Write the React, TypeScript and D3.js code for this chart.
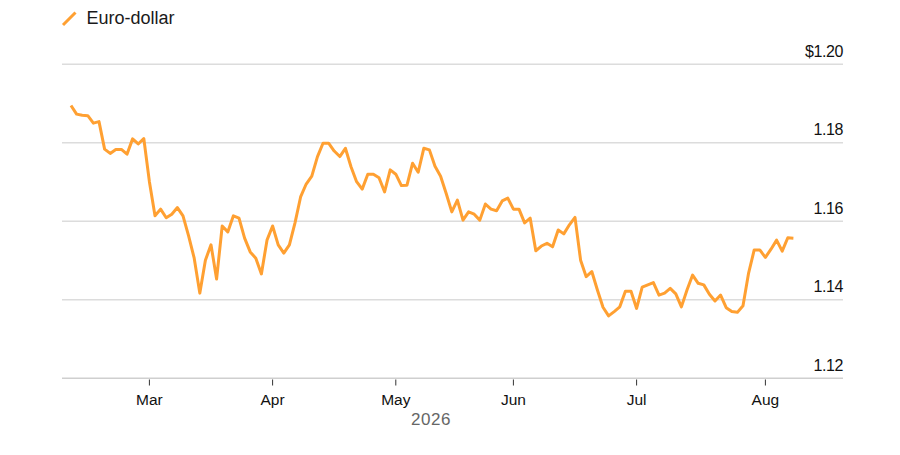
import {useEffect, useRef} from 'react';
import * as d3 from 'd3';

// Euro-dollar daily closes, trading days 10 Feb – 10 Aug 2026
const seriesName = 'Euro-dollar';
const eurUsd = [
  1.1895, 1.1873, 1.187, 1.1869, 1.185, 1.1854, 1.1784, 1.1773, 1.1783, 1.1783,
  1.1771, 1.181, 1.1797, 1.1811, 1.1701, 1.1614, 1.1631, 1.1609, 1.1618, 1.1635,
  1.1614, 1.1563, 1.1506, 1.1417, 1.1501, 1.154, 1.1453, 1.1588, 1.1573, 1.1614,
  1.1608, 1.1557, 1.1522, 1.1506, 1.1466, 1.1552, 1.1588, 1.154, 1.1519, 1.154,
  1.1596, 1.1662, 1.1695, 1.1715, 1.1764, 1.1799, 1.1799, 1.1779, 1.1765, 1.1786,
  1.1739, 1.1701, 1.1682, 1.172, 1.172, 1.1711, 1.1675, 1.1731, 1.172, 1.1691,
  1.1692, 1.1748, 1.1725, 1.1786, 1.1782, 1.174, 1.1715, 1.1671, 1.1624, 1.1654,
  1.1603, 1.1624, 1.1618, 1.1603, 1.1644, 1.1631, 1.1627, 1.1652, 1.1659, 1.1631,
  1.1631, 1.1596, 1.1608, 1.1525, 1.1537, 1.1544, 1.1535, 1.1578, 1.1568, 1.1591,
  1.161, 1.1501, 1.1459, 1.1472, 1.1425, 1.1381, 1.1359, 1.137, 1.1382, 1.1422,
  1.1422, 1.1378, 1.1432, 1.1438, 1.1444, 1.1412, 1.1417, 1.1429, 1.1415, 1.1382,
  1.1425, 1.1463, 1.1442, 1.1438, 1.1414, 1.1397, 1.1412, 1.138, 1.137, 1.1368,
  1.1385, 1.1468, 1.1527, 1.1527, 1.1508, 1.1529, 1.1552, 1.1524, 1.1558, 1.1557,
];

// first trading day of each month (index into eurUsd)
const monthLabels = ['Mar', 'Apr', 'May', 'Jun', 'Jul', 'Aug'];
const monthIndex = [14, 36, 58, 79, 101, 124];
const yearLabel = '2026';

const yTicks = [1.12, 1.14, 1.16, 1.18, 1.2];
const yTickLabels = ['1.12', '1.14', '1.16', '1.18', '$1.20'];

const WIDTH = 900;
const HEIGHT = 455;
const LINE_COLOR = '#ffa032';
const FONT = '"Liberation Sans", Arial, Helvetica, sans-serif';

const App = () => {
  const svgRef = useRef<SVGSVGElement>(null);

  useEffect(() => {
    const svg = d3.select(svgRef.current);
    svg.selectAll('*').remove();

    const plotLeft = 62;
    const plotRight = 843;

    const xScale = d3
      .scaleLinear()
      .domain([0, eurUsd.length - 1])
      .range([71, 793.4]);
    const yScale = d3.scaleLinear().domain([1.12, 1.2]).range([378.3, 64.3]);

    // legend
    const legend = svg.append('g');
    legend
      .append('line')
      .attr('x1', 63)
      .attr('y1', 25)
      .attr('x2', 75.5)
      .attr('y2', 12.5)
      .attr('stroke', LINE_COLOR)
      .attr('stroke-width', 3);
    legend
      .append('text')
      .attr('x', 86.5)
      .attr('y', 24)
      .attr('font-family', FONT)
      .attr('font-size', 18)
      .attr('fill', '#1a1a1a')
      .text(seriesName);

    // horizontal grid + y labels
    const grid = svg.append('g');
    grid
      .selectAll('line')
      .data(yTicks)
      .enter()
      .append('line')
      .attr('x1', plotLeft)
      .attr('x2', plotRight)
      .attr('y1', (d) => yScale(d))
      .attr('y2', (d) => yScale(d))
      .attr('stroke', (d, i) => (i === 0 ? '#cfcfcf' : '#dcdcdc'))
      .attr('stroke-width', 1.5);
    grid
      .selectAll('text')
      .data(yTicks)
      .enter()
      .append('text')
      .attr('x', plotRight)
      .attr('y', (d) => yScale(d) - 7.5)
      .attr('text-anchor', 'end')
      .attr('font-family', FONT)
      .attr('font-size', 16)
      .attr('letter-spacing', -0.4)
      .attr('fill', '#111')
      .text((d, i) => yTickLabels[i]);

    // x ticks
    const xAxis = svg.append('g');
    xAxis
      .selectAll('line')
      .data(monthIndex)
      .enter()
      .append('line')
      .attr('x1', (d) => xScale(d))
      .attr('x2', (d) => xScale(d))
      .attr('y1', 379.5)
      .attr('y2', 385.5)
      .attr('stroke', '#333')
      .attr('stroke-width', 1);
    xAxis
      .selectAll('text')
      .data(monthIndex)
      .enter()
      .append('text')
      .attr('x', (d) => xScale(d))
      .attr('y', 404.5)
      .attr('text-anchor', 'middle')
      .attr('font-family', FONT)
      .attr('font-size', 15.5)
      .attr('fill', '#111')
      .text((d, i) => monthLabels[i]);
    xAxis
      .append('text')
      .attr('x', 431)
      .attr('y', 425)
      .attr('text-anchor', 'middle')
      .attr('font-family', FONT)
      .attr('font-size', 17)
      .attr('letter-spacing', 0.6)
      .attr('fill', '#666')
      .text(yearLabel);

    // the series
    const line = d3
      .line<number>()
      .x((d, i) => xScale(i))
      .y((d) => yScale(d))
      .curve(d3.curveLinear);

    svg
      .append('path')
      .datum(eurUsd)
      .attr('fill', 'none')
      .attr('stroke', LINE_COLOR)
      .attr('stroke-width', 3)
      .attr('stroke-linejoin', 'round')
      .attr('stroke-linecap', 'butt')
      .attr('d', line);
  }, []);

  return (
    <svg
      ref={svgRef}
      width={WIDTH}
      height={HEIGHT}
      style={{position: 'absolute', left: 0, top: 0, background: '#fff'}}
    />
  );
};

export default App;
